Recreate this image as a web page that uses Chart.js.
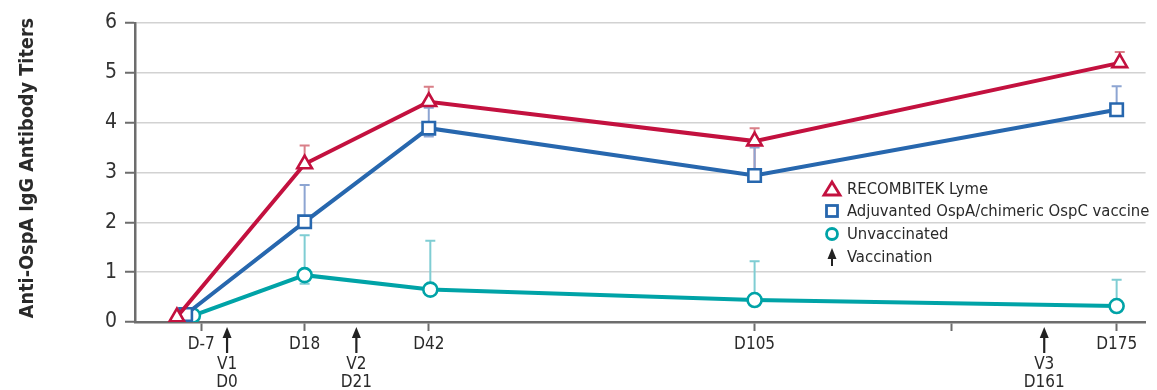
<!DOCTYPE html>
<html>
<head>
<meta charset="utf-8">
<script src="https://cdn.jsdelivr.net/npm/chart.js@4.4.1/dist/chart.umd.min.js"></script>
<style>
    html, body { margin: 0; padding: 0; background: #fff; }
    #wrap { width: 1157px; height: 390px; }
</style>
</head>
<body>
<div id="wrap"><canvas id="grafico" width="1157" height="390"></canvas></div>
<script>
const seriesNames = ['RECOMBITEK Lyme', 'Adjuvanted OspA/chimeric OspC vaccine', 'Unvaccinated']

// red triangles
const recombitekDays = [-6.7, 18, 42, 105, 175.6]
const recombitekTiters = [0.1, 3.17, 4.42, 3.63, 5.2]
const recombitekUpper = [null, 3.54, 4.72, 3.89, 5.42]
const recombitekLower = [null, null, null, 3.0, null]

// blue squares
const adjuvantedDays = [-5, 18, 42, 105, 175]
const adjuvantedTiters = [0.15, 2.01, 3.89, 2.94, 4.26]
const adjuvantedUpper = [null, 2.75, 4.3, 3.5, 4.73]
const adjuvantedLower = [null, null, 3.72, null, null]

// teal circles
const unvaccDays = [-3.6, 18, 42.3, 105, 175]
const unvaccTiters = [0.13, 0.94, 0.65, 0.44, 0.32]
const unvaccUpper = [null, 1.74, 1.63, 1.22, 0.85]
const unvaccLower = [null, 0.77, null, null, null]

const tickDays = [-2, 18, 42, 105, 143, 175]
const tickLabels = ['D-7', 'D18', 'D42', 'D105', '', 'D175']

const vaccDays = [3, 28, 161]
const vaccLabels = [['V1', 'D0'], ['V2', 'D21'], ['V3', 'D161']]

const yTitle = 'Anti-OspA IgG Antibody Titers'

const colores = ['#c3113f', '#2767ae', '#00a3a7']
const coloresError = ['#d97f88', '#8da5d2', '#7fcdd3']
const fuente = '"DejaVu Sans Condensed", "Liberation Sans Narrow", "Roboto Condensed", "Noto Sans", sans-serif'

const puntos = (xs, ys) => xs.map((x, i) => ({ x, y: ys[i] }))

const errores = [
    { days: recombitekDays, up: recombitekUpper, low: recombitekLower },
    { days: adjuvantedDays, up: adjuvantedUpper, low: adjuvantedLower },
    { days: unvaccDays, up: unvaccUpper, low: unvaccLower }
]

const pluginErrores = {
    id: 'errores',
    beforeDatasetsDraw(chart) {
        const { ctx, scales: { x, y } } = chart
        ctx.save()
        errores.forEach((serie, s) => {
            const valores = chart.data.datasets[s].data
            ctx.strokeStyle = coloresError[s]
            ctx.lineWidth = 2
            serie.days.forEach((d, i) => {
                const px = x.getPixelForValue(d)
                const py = y.getPixelForValue(valores[i].y)
                ;[serie.up[i], serie.low[i]].forEach(v => {
                    if (v == null) return
                    const pe = y.getPixelForValue(v)
                    ctx.beginPath()
                    ctx.moveTo(px, py)
                    ctx.lineTo(px, pe)
                    ctx.moveTo(px - 5, pe)
                    ctx.lineTo(px + 5, pe)
                    ctx.stroke()
                })
            })
        })
        ctx.restore()
    }
}

function flecha(ctx, x, yTop, yBot) {
    ctx.beginPath()
    ctx.moveTo(x, yTop + 8)
    ctx.lineTo(x, yBot)
    ctx.stroke()
    ctx.beginPath()
    ctx.moveTo(x, yTop)
    ctx.lineTo(x - 4.5, yTop + 11)
    ctx.lineTo(x + 4.5, yTop + 11)
    ctx.closePath()
    ctx.fill()
}

const pluginExtras = {
    id: 'extras',
    afterDraw(chart) {
        const { ctx, scales: { x }, chartArea } = chart
        ctx.save()

        // titulo eje y, ajustado a ~300px de largo
        ctx.fillStyle = '#2a2a2a'
        let size = 19
        ctx.font = `bold ${size}px ${fuente}`
        const w = ctx.measureText(yTitle).width
        size = size * 300 / w
        ctx.font = `bold ${size.toFixed(1)}px ${fuente}`
        ctx.translate(28, 168)
        ctx.rotate(-Math.PI / 2)
        ctx.textAlign = 'center'
        ctx.textBaseline = 'middle'
        ctx.fillText(yTitle, 0, 0)
        ctx.setTransform(1, 0, 0, 1, 0, 0)

        // flechas de vacunacion
        ctx.strokeStyle = '#222'
        ctx.fillStyle = '#222'
        ctx.lineWidth = 2.2
        ctx.font = `17px ${fuente}`
        ctx.textAlign = 'center'
        ctx.textBaseline = 'middle'
        vaccDays.forEach((d, i) => {
            const px = x.getPixelForValue(d)
            flecha(ctx, px, chartArea.bottom + 5, chartArea.bottom + 31)
            ctx.fillStyle = '#2a2a2a'
            ctx.fillText(vaccLabels[i][0], px, 365)
            ctx.fillText(vaccLabels[i][1], px, 383)
            ctx.fillStyle = '#222'
        })

        // leyenda
        const lx = 832, tx = 847
        const filas = [189, 211, 234, 257]
        ctx.textAlign = 'left'
        ctx.lineWidth = 2.8
        // triangulo
        ctx.strokeStyle = colores[0]
        ctx.beginPath()
        ctx.moveTo(lx, filas[0] - 7)
        ctx.lineTo(lx + 8, filas[0] + 6)
        ctx.lineTo(lx - 8, filas[0] + 6)
        ctx.closePath()
        ctx.stroke()
        // cuadrado
        ctx.strokeStyle = colores[1]
        ctx.strokeRect(lx - 5.5, filas[1] - 5.5, 11, 11)
        // circulo
        ctx.strokeStyle = colores[2]
        ctx.beginPath()
        ctx.arc(lx, filas[2], 5.5, 0, Math.PI * 2)
        ctx.stroke()
        // flecha
        ctx.strokeStyle = '#222'
        ctx.fillStyle = '#222'
        ctx.lineWidth = 2
        flecha(ctx, lx, filas[3] - 9, filas[3] + 9)

        ctx.fillStyle = '#2a2a2a'
        ctx.font = `16.5px ${fuente}`
        const textos = [...seriesNames, 'Vaccination']
        textos.forEach((t, i) => ctx.fillText(t, tx, filas[i] + 1))

        ctx.restore()
    }
}

const estiloPunto = ['triangle', 'rect', 'circle']
const radios = [8.5, 8.8, 7]
const dataXY = [
    puntos(recombitekDays, recombitekTiters),
    puntos(adjuvantedDays, adjuvantedTiters),
    puntos(unvaccDays, unvaccTiters)
]

new Chart(document.getElementById('grafico'), {
    type: 'line',
    data: {
        datasets: seriesNames.map((nombre, i) => ({
            label: nombre,
            data: dataXY[i],
            borderColor: colores[i],
            borderWidth: 4,
            tension: 0,
            pointStyle: estiloPunto[i],
            pointRadius: radios[i],
            pointBorderWidth: 2.6,
            pointBorderColor: colores[i],
            pointBackgroundColor: '#fff'
        }))
    },
    plugins: [pluginErrores, pluginExtras],
    options: {
        responsive: false,
        animation: false,
        layout: { padding: { top: 23, right: 10, left: 0, bottom: 0 } },
        plugins: {
            legend: { display: false },
            tooltip: { enabled: false }
        },
        scales: {
            x: {
                type: 'linear',
                min: -14.8,
                max: 180.6,
                afterBuildTicks: (scale) => {
                    scale.ticks = tickDays.map(v => ({ value: v }))
                },
                afterFit: (scale) => { scale.height = 68 },
                ticks: {
                    autoSkip: false,
                    maxRotation: 0,
                    padding: 3,
                    color: '#2a2a2a',
                    font: { family: fuente, size: 17 },
                    callback: (value, index) => tickLabels[index]
                },
                grid: {
                    drawOnChartArea: false,
                    drawTicks: true,
                    tickLength: 9,
                    tickColor: '#6d6d6d',
                    tickWidth: 2
                },
                border: { color: '#6d6d6d', width: 2.5 }
            },
            y: {
                min: 0,
                max: 6,
                afterFit: (scale) => { scale.width = 135 },
                ticks: {
                    stepSize: 1,
                    padding: 8,
                    color: '#333',
                    font: { family: fuente, size: 21 }
                },
                grid: {
                    color: '#d2d2d2',
                    lineWidth: 1.5,
                    tickLength: 10,
                    tickColor: '#6d6d6d',
                    tickWidth: 2
                },
                border: { color: '#6d6d6d', width: 2.5 }
            }
        }
    }
})
</script>
</body>
</html>
